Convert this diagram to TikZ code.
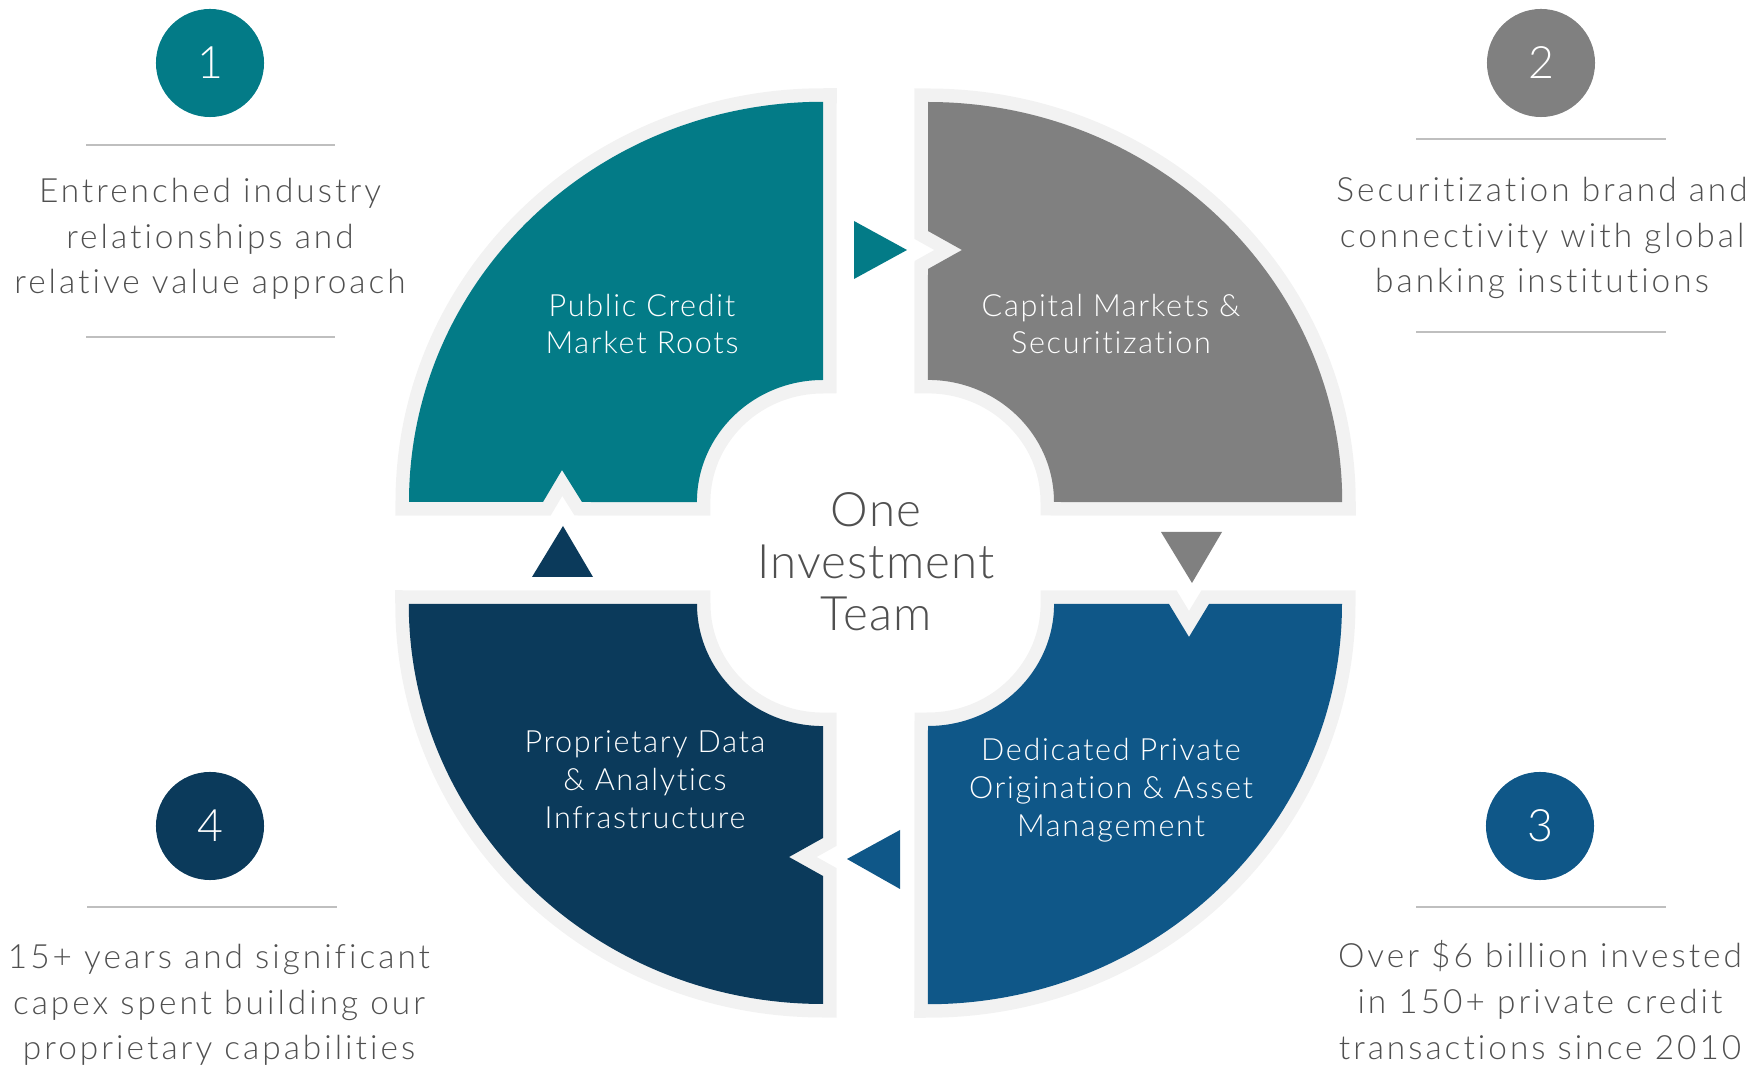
\documentclass[tikz,border=0pt]{standalone}
\usepackage{fontspec}
\setmainfont{Lato Light}[Ligatures={NoCommon,NoRequired,NoContextual}]
\usetikzlibrary{calc}
\definecolor{tealq}{HTML}{037B87}
\definecolor{greyq}{HTML}{808080}
\definecolor{blueq}{HTML}{0F5788}
\definecolor{navyq}{HTML}{0B3A5B}
\definecolor{rim}{HTML}{F2F2F2}
\definecolor{txt}{HTML}{505050}
\definecolor{rulec}{HTML}{BFBFBF}
\tikzset{
  define radii/.style={
    execute at begin picture={
      \def\rxo{4.14cm}
      \def\ryo{4.00cm}
      \def\rxi{1.26cm}
      \def\ryi{1.22cm}
   }
 },
every picture/.append style={x=0.01cm,y=0.01cm,define radii},
quarter/.style={preaction={draw=rim,line width=0.27cm,line join=miter}},
label/.style={text=white,align=center,font=\fontsize{8.7}{10.8}\selectfont\addfontfeature{LetterSpace=5.5}},
number/.style={circle,minimum size=1.08cm,inner sep=0pt,text=white,font=\fontsize{12.7}{14}\selectfont},
blurb/.style={text=txt,align=center,font=\fontsize{9.5}{12.95}\selectfont\addfontfeature{LetterSpace=9}},
rule/.style={draw=rulec,line width=0.02cm}
}
\begin{document}
\begin{tikzpicture}
\useasboundingbox (0,0) rectangle (1753,1066);

% Draw the four quarters, each with its notch
\fill[tealq,quarter] (823,686)
  arc[start angle=90,end angle=180,x radius=\rxi,y radius=\ryi]
  -- (582,564) -- (562,596) -- (543,564) -- (409,564)
  arc[start angle=180,end angle=90,x radius=\rxo,y radius=\ryo] -- cycle;
\fill[greyq,quarter] (928,964)
  arc[start angle=90,end angle=0,x radius=\rxo,y radius=\ryo]
  -- (1054,564)
  arc[start angle=0,end angle=90,x radius=\rxi,y radius=\ryi]
  -- (928,797) -- (962,816) -- (928,835) -- cycle;
\fill[blueq,quarter] (1342,462)
  arc[start angle=0,end angle=-90,x radius=\rxo,y radius=\ryo]
  -- (928,340)
  arc[start angle=270,end angle=360,x radius=\rxi,y radius=\ryi]
  -- (1169,462) -- (1189,429) -- (1209,462) -- cycle;
\fill[navyq,quarter] (697,462)
  arc[start angle=180,end angle=270,x radius=\rxi,y radius=\ryi]
  -- (823,228) -- (789,209) -- (823,190) -- (823,62)
  arc[start angle=270,end angle=180,x radius=\rxo,y radius=\ryo] -- cycle;

% the arrow heads between the quarters
\fill[tealq] (854,845) -- (907,816) -- (854,787) -- cycle;
\fill[greyq] (1161,534) -- (1222,534) -- (1192,483) -- cycle;
\fill[blueq] (900,236) -- (847,207) -- (900,177) -- cycle;
\fill[navyq] (532,489) -- (563,540) -- (593,489) -- cycle;

% labels of the quarters
\node[label] (pub) at (642,742) {Public Credit\\Market Roots};
\node[label] (cap) at (1111,742) {Capital Markets \&\\Securitization};
\node[label] (ded) at (1111,276) {Dedicated Private\\Origination \& Asset\\Management};
\node[label] (pro) at (645,286) {Proprietary Data\\\& Analytics\\Infrastructure};
\node[text=txt,align=center,font=\fontsize{13.5}{14.8}\selectfont\addfontfeature{LetterSpace=2.5}] (one) at (876,504) {One\\Investment\\Team};

% numbered discs
\node[number,fill=tealq] (n1) at (210,1003) {1};
\node[number,fill=greyq] (n2) at (1541,1003) {2};
\node[number,fill=blueq] (n3) at (1540,240) {3};
\node[number,fill=navyq] (n4) at (210,240) {4};

% side texts and their rules
\draw[rule] (86,921) -- (335,921);
\draw[rule] (86,729) -- (335,729);
\node[blurb] (t1) at (210,827) {Entrenched industry\\relationships and\\relative value approach};

\draw[rule] (1416,927) -- (1666,927);
\draw[rule] (1416,734) -- (1666,734);
\node[blurb] (t2) at (1542,828) {Securitization brand and\\connectivity with global\\banking institutions};

\draw[rule] (1416,159) -- (1666,159);
\node[blurb] (t3) at (1540,66) {Over \$6 billion invested\\in 150+ private credit\\transactions since 2010};

\draw[rule] (87,159) -- (337,159);
\node[blurb] (t4) at (219,61) {15+ years and significant\\capex spent building our\\proprietary capabilities};

\end{tikzpicture}
\end{document}
